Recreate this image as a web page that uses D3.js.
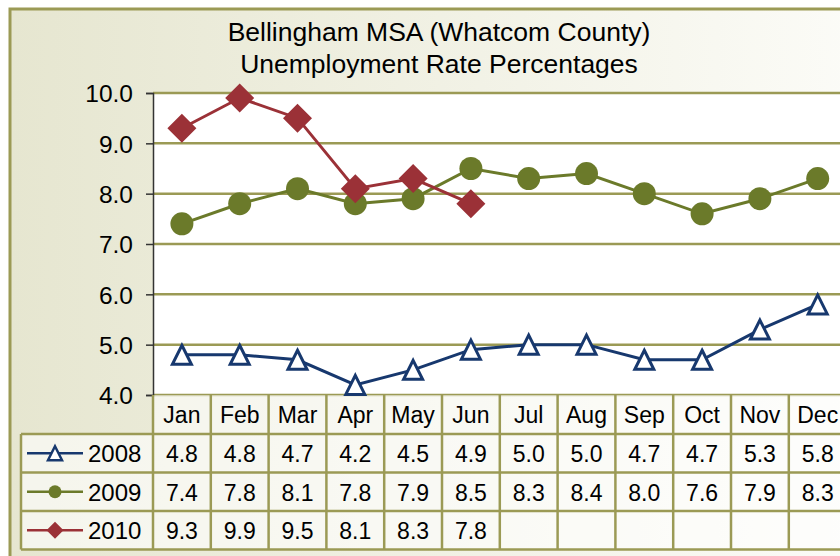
<!DOCTYPE html>
<html>
<head>
<meta charset="utf-8">
<script src="https://d3js.org/d3.v7.min.js"></script>
<style>
  body { margin: 0; background: #fff; }
  text { font-family: "Liberation Sans", Arial, sans-serif; fill: #000; }
</style>
</head>
<body>
<div id="chart"></div>
<script>
var months = ["Jan", "Feb", "Mar", "Apr", "May", "Jun", "Jul", "Aug", "Sep", "Oct", "Nov", "Dec"];
var years = ["2008", "2009", "2010"];
var rate2008 = [4.8, 4.8, 4.7, 4.2, 4.5, 4.9, 5.0, 5.0, 4.7, 4.7, 5.3, 5.8];
var rate2009 = [7.4, 7.8, 8.1, 7.8, 7.9, 8.5, 8.3, 8.4, 8.0, 7.6, 7.9, 8.3];
var rate2010 = [9.3, 9.9, 9.5, 8.1, 8.3, 7.8];
var yTicks = [4, 5, 6, 7, 8, 9, 10];
var titleLines = ["Bellingham MSA (Whatcom County)", "Unemployment Rate Percentages"];

var width = 840;
var height = 556;
var olive = "#9b9a55";

var series = [
  { name: years[0], values: rate2008, color: "#17386e", marker: "triangle" },
  { name: years[1], values: rate2009, color: "#6b7a2a", marker: "circle" },
  { name: years[2], values: rate2010, color: "#9b3137", marker: "diamond" }
];

var svg = d3.select("#chart").append("svg").attr("width", width).attr("height", height);

var defs = svg.append("defs");
var grad = defs.append("linearGradient").attr("id", "bg").attr("x1", 0).attr("x2", 1).attr("y1", 0).attr("y2", 0);
grad.append("stop").attr("offset", "0%").attr("stop-color", "#e6e6d0");
grad.append("stop").attr("offset", "100%").attr("stop-color", "#fdfdfa");

// outer frame (runs past the right and bottom edge)
svg.append("rect")
  .attr("x", 10).attr("y", 9).attr("width", 900).attr("height", 600)
  .attr("fill", "url(#bg)")
  .attr("stroke", olive).attr("stroke-width", 3);

svg.selectAll(".title")
  .data(titleLines)
  .enter()
  .append("text")
  .attr("x", 439)
  .attr("y", (d, i) => 41 + i * 32)
  .attr("text-anchor", "middle")
  .style("font-size", "26.5px")
  .text(d => d);

var plotLeft = 153, plotTop = 93, plotBottom = 395;
var colW = 57.8;

var x = d3.scaleBand().domain(months).range([plotLeft, plotLeft + colW * months.length]).padding(0);
var y = d3.scaleLinear().domain([4, 10]).range([plotBottom, plotTop]);

svg.append("rect")
  .attr("x", plotLeft).attr("y", plotTop)
  .attr("width", width - plotLeft + 20).attr("height", plotBottom - plotTop)
  .attr("fill", "#fff");

svg.append("g").selectAll("line")
  .data(yTicks)
  .enter()
  .append("line")
  .attr("x1", plotLeft).attr("x2", width + 20)
  .attr("y1", d => y(d)).attr("y2", d => y(d))
  .attr("stroke", olive).attr("stroke-width", 2.5);

var yAxis = svg.append("g")
  .attr("transform", "translate(" + plotLeft + ",0)")
  .call(d3.axisLeft(y).tickValues(yTicks).tickFormat(d3.format(".1f")).tickSize(7).tickPadding(13));
yAxis.select(".domain").attr("stroke", "#333").attr("stroke-width", 1.5);
yAxis.selectAll(".tick line").attr("stroke", "#333").attr("stroke-width", 1.5);
yAxis.selectAll(".tick text")
  .attr("fill", "#000")
  .style("font-family", "'Liberation Sans', Arial, sans-serif")
  .style("font-size", "24.5px")
  .attr("dy", "0.36em");

// data table under the plot
var tableLeft = 21;
var headerH = 39, rowH = 38.5;
var rowY = d3.scaleBand().domain(years).range([plotBottom + headerH, plotBottom + headerH + rowH * years.length]);
var tableBottom = plotBottom + headerH + rowH * years.length;

var tbl = svg.append("g");
tbl.append("rect")
  .attr("x", plotLeft).attr("y", plotBottom)
  .attr("width", width).attr("height", headerH)
  .attr("fill", "#fff").attr("opacity", 0.55);
tbl.append("rect")
  .attr("x", tableLeft).attr("y", plotBottom + headerH)
  .attr("width", width).attr("height", rowH * years.length)
  .attr("fill", "#fff").attr("opacity", 0.6);

tbl.selectAll(".hline")
  .data(years.map(d => rowY(d)).concat([tableBottom]))
  .enter()
  .append("line")
  .attr("x1", tableLeft).attr("x2", width + 20)
  .attr("y1", d => d).attr("y2", d => d)
  .attr("stroke", olive).attr("stroke-width", 2.5);

tbl.selectAll(".vline")
  .data(months.map(d => x(d)).concat([plotLeft + colW * months.length]))
  .enter()
  .append("line")
  .attr("x1", d => d).attr("x2", d => d)
  .attr("y1", plotBottom).attr("y2", tableBottom)
  .attr("stroke", olive).attr("stroke-width", 2.5);

tbl.append("line")
  .attr("x1", tableLeft).attr("x2", tableLeft)
  .attr("y1", rowY(years[0])).attr("y2", tableBottom)
  .attr("stroke", olive).attr("stroke-width", 2.5);

tbl.selectAll(".month")
  .data(months)
  .enter()
  .append("text")
  .attr("x", d => x(d) + colW / 2)
  .attr("y", plotBottom + headerH / 2 + 8.5)
  .attr("text-anchor", "middle")
  .style("font-size", "23px")
  .text(d => d);

series.forEach(function(s) {
  tbl.selectAll(".v" + s.name)
    .data(s.values)
    .enter()
    .append("text")
    .attr("x", (d, i) => x(months[i]) + colW / 2)
    .attr("y", rowY(s.name) + rowH / 2 + 9)
    .attr("text-anchor", "middle")
    .style("font-size", "23px")
    .text(d => d3.format(".1f")(d));
});

var markerPath = function(type, r) {
  if (type == "triangle") return "M0," + (-r) + "L" + r + "," + r + "L" + (-r) + "," + r + "Z";
  if (type == "diamond") return "M0," + (-r) + "L" + r + ",0L0," + r + "L" + (-r) + ",0Z";
  return d3.symbol().type(d3.symbolCircle).size(Math.PI * r * r)();
};

var line = d3.line()
  .x((d, i) => x(months[i]) + colW / 2)
  .y(d => y(d));

series.forEach(function(s) {
  var g = svg.append("g");
  g.append("path")
    .attr("d", line(s.values))
    .attr("fill", "none")
    .attr("stroke", s.color)
    .attr("stroke-width", 3);

  var size = s.marker == "triangle" ? 9.5 : (s.marker == "diamond" ? 14.5 : 11.5);
  g.selectAll("path.m")
    .data(s.values)
    .enter()
    .append("path")
    .attr("class", "m")
    .attr("transform", (d, i) => "translate(" + (x(months[i]) + colW / 2) + "," + y(d) + ")")
    .attr("d", markerPath(s.marker, size))
    .attr("fill", s.marker == "triangle" ? "#fff" : s.color)
    .attr("stroke", s.color)
    .attr("stroke-width", s.marker == "triangle" ? 3 : 0);

  // legend key in the table
  var ly = rowY(s.name) + rowH / 2;
  var lg = svg.append("g").attr("transform", "translate(0," + ly + ")");
  lg.append("line")
    .attr("x1", 27).attr("x2", 83)
    .attr("stroke", s.color).attr("stroke-width", 2.5);
  var ls = s.marker == "triangle" ? 7 : (s.marker == "diamond" ? 8.5 : 6.5);
  lg.append("path")
    .attr("transform", "translate(55,0)")
    .attr("d", markerPath(s.marker, ls))
    .attr("fill", s.marker == "triangle" ? "#fff" : s.color)
    .attr("stroke", s.color)
    .attr("stroke-width", s.marker == "triangle" ? 2.5 : 0);
  lg.append("text")
    .attr("x", 88).attr("y", 9)
    .style("font-size", "24px")
    .text(s.name);
});
</script>
</body>
</html>
